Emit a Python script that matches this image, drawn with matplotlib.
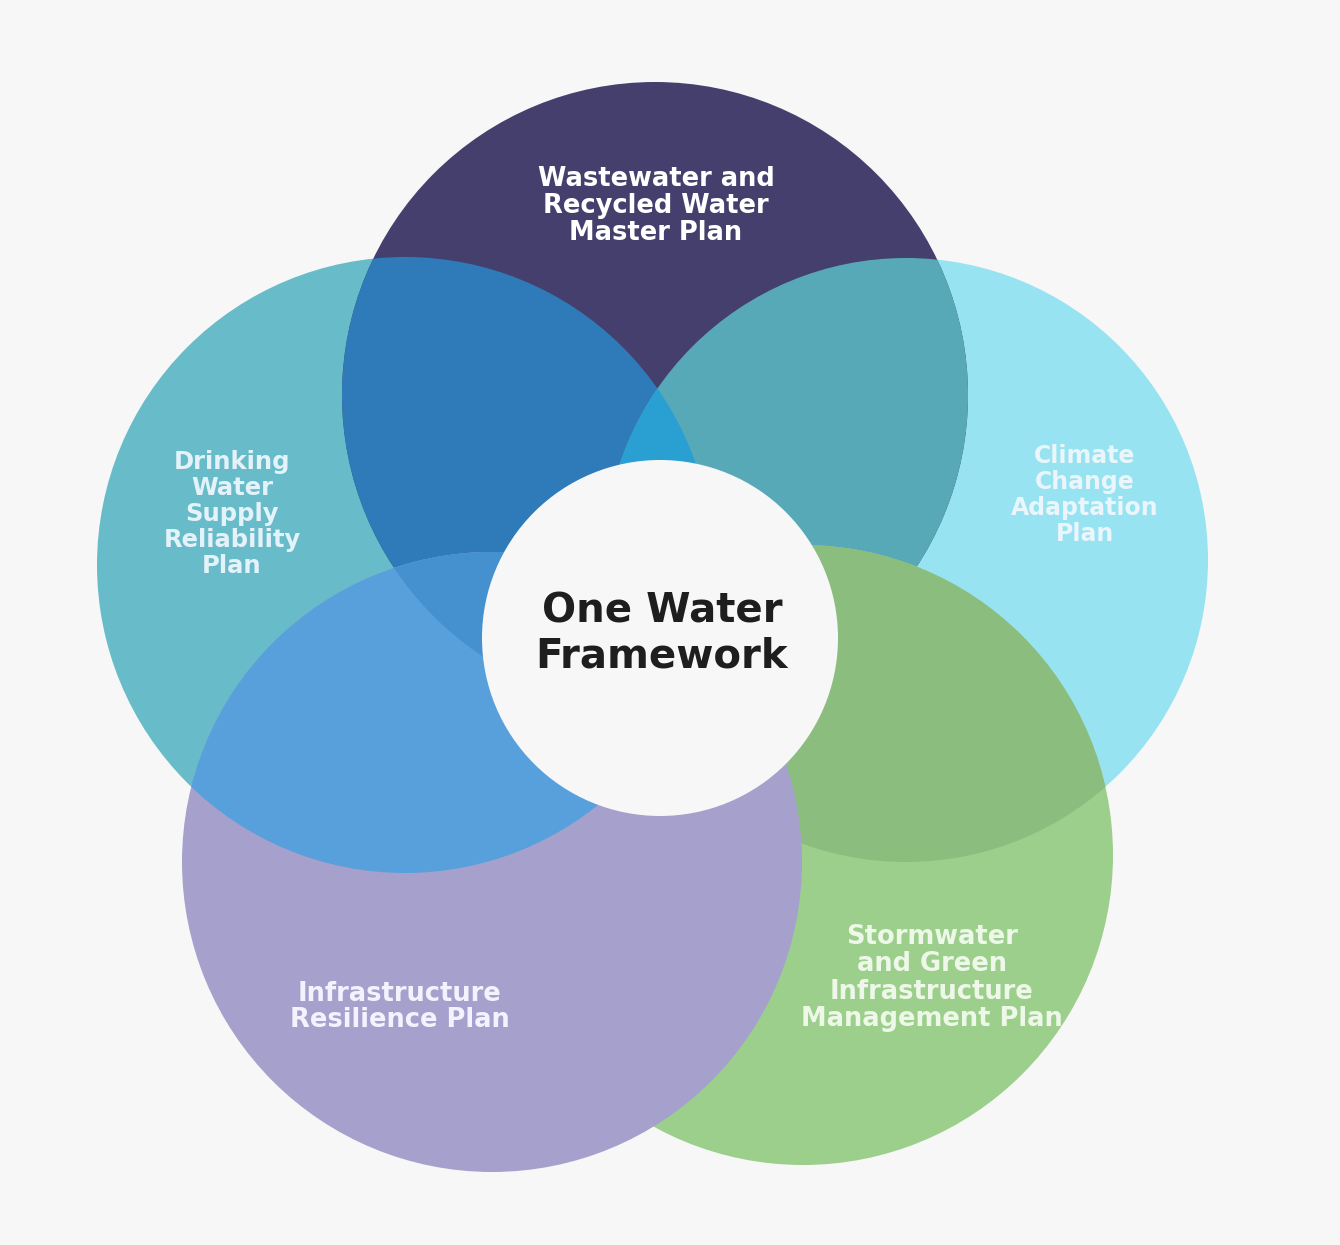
import numpy as np
import matplotlib
matplotlib.use("Agg")
import matplotlib.pyplot as plt
from matplotlib.patches import Circle, Polygon

# plan names (text content)
center_title = "One Water\nFramework"
plan_labels = [
    "Wastewater and\nRecycled Water\nMaster Plan",
    "Drinking\nWater\nSupply\nReliability\nPlan",
    "Climate\nChange\nAdaptation\nPlan",
    "Infrastructure\nResilience Plan",
    "Stormwater\nand Green\nInfrastructure\nManagement Plan",
]

# circle geometry in pixel space (x, y from top-left)
circle_xy = [(655, 395), (405, 565), (906, 560), (492, 862), (803, 855)]
circle_r = [313, 308, 302, 310, 310]
hub_xy = (660, 638)
hub_r = 178
label_xy = [(656, 206), (232, 514), (1085, 495), (400, 1007), (932, 978)]

# colours
base_colors = ["#453f6d", "#68bcc9", "#97e3f2", "#a6a0cc", "#9ccf8c"]
col_ab = "#2f7bb9"
col_ac = "#58a9b8"
col_abc = "#2a9fd2"
col_bd = "#57a0dc"
col_abd = "#4590cf"
col_ce = "#8abd7e"
bg = "#f7f7f7"


def circle_poly(c, r, n=360):
    t = np.linspace(0, 2 * np.pi, n, endpoint=False)
    return np.column_stack([c[0] + r * np.cos(t), c[1] + r * np.sin(t)])


def clip_convex(subject, clipper):
    # Sutherland-Hodgman, both polygons convex, same orientation
    out = list(subject)
    m = len(clipper)
    for i in range(m):
        a, b = clipper[i], clipper[(i + 1) % m]
        inp, out = out, []
        if not inp:
            break

        def inside(p):
            return (b[0] - a[0]) * (p[1] - a[1]) - (b[1] - a[1]) * (p[0] - a[0]) >= 0

        def cross(p, q):
            x1, y1, x2, y2 = p[0], p[1], q[0], q[1]
            x3, y3, x4, y4 = a[0], a[1], b[0], b[1]
            den = (x1 - x2) * (y3 - y4) - (y1 - y2) * (x3 - x4)
            t = ((x1 - x3) * (y3 - y4) - (y1 - y3) * (x3 - x4)) / den
            return (x1 + t * (x2 - x1), y1 + t * (y2 - y1))

        s = inp[-1]
        for e in inp:
            if inside(e):
                if not inside(s):
                    out.append(cross(s, e))
                out.append(e)
            elif inside(s):
                out.append(cross(s, e))
            s = e
    return np.array(out)


fig = plt.figure(figsize=(13.4, 12.45), dpi=100, facecolor=bg)
ax = fig.add_axes([0, 0, 1, 1])
ax.set_xlim(0, 1340)
ax.set_ylim(1245, 0)
ax.set_aspect("equal")
ax.axis("off")

A, B, C, D, E = range(5)


def clipper(i):
    return Circle(circle_xy[i], circle_r[i], transform=ax.transData)


def disc(i, color, clip=None, z=1):
    p = Circle(circle_xy[i], circle_r[i], facecolor=color, edgecolor="none", zorder=z)
    ax.add_patch(p)
    if clip is not None:
        p.set_clip_path(clipper(clip))
    return p


def lens(i, j, color, clip, z):
    pi = circle_poly(circle_xy[i], circle_r[i])
    pj = circle_poly(circle_xy[j], circle_r[j])
    poly = clip_convex(pi, pj)
    p = Polygon(poly, closed=True, facecolor=color, edgecolor="none", zorder=z)
    ax.add_patch(p)
    p.set_clip_path(clipper(clip))


disc(B, base_colors[B], z=1)
disc(C, base_colors[C], z=1)
disc(A, base_colors[A], z=2)
disc(A, col_ab, clip=B, z=3)
disc(A, col_ac, clip=C, z=3)
lens(A, B, col_abc, clip=C, z=4)
disc(E, base_colors[E], z=5)
disc(C, col_ce, clip=E, z=6)
disc(D, base_colors[D], z=7)
disc(B, col_bd, clip=D, z=8)
lens(A, B, col_abd, clip=D, z=9)

ax.add_patch(Circle(hub_xy, hub_r, facecolor=bg, edgecolor="none", zorder=10))

ax.text(hub_xy[0] + 2, hub_xy[1] - 4, center_title, ha="center", va="center",
        fontsize=29, fontweight="bold", color="#1e1e1e", linespacing=1.15, zorder=11)

label_sizes = [18.5, 17.5, 17, 18.5, 18.5]
label_spacing = [1.06, 1.1, 1.1, 1.03, 1.07]
label_colors = ["white", "#e4f2fa", "#eaf6fb", "#f4f2ff", "#eef8e8"]
for text, xy, fs, ls, tc in zip(plan_labels, label_xy, label_sizes, label_spacing, label_colors):
    ax.text(xy[0], xy[1], text, ha="center", va="center", fontsize=fs,
            fontweight="bold", color=tc, linespacing=ls, zorder=12)

fig.savefig("out.png", dpi=100, facecolor=bg)
